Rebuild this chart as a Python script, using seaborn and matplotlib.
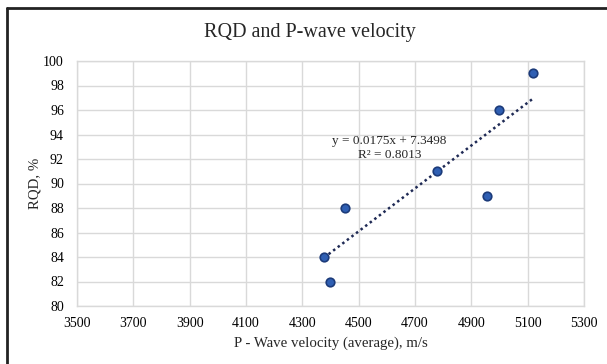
import matplotlib
matplotlib.use("Agg")
import matplotlib.pyplot as plt
import seaborn as sns
import numpy as np
import pandas as pd
from matplotlib.lines import Line2D

sns.set_theme(style="whitegrid")
plt.rcParams['font.family'] = ['Liberation Serif', 'DejaVu Serif']

# Data
velocity = [5119, 4998, 4779, 4956, 4453, 4377, 4399]
rqd = [99, 96, 91, 89, 88, 84, 82]
slope = 0.0175
intercept = 7.3498
r2 = 0.8013
x_ticks = [3500, 3700, 3900, 4100, 4300, 4500, 4700, 4900, 5100, 5300]
y_ticks = [80, 82, 84, 86, 88, 90, 92, 94, 96, 98, 100]

df = pd.DataFrame({"velocity": velocity, "rqd": rqd})

fig = plt.figure(figsize=(6.07, 3.64), dpi=100)
ax = fig.add_axes([77/607, 1-306/364, (584-77)/607, (306-61)/364])

xs = np.array([min(velocity), max(velocity)])
trend = pd.DataFrame({"x": xs, "y": slope*xs + intercept})
sns.lineplot(data=trend, x="x", y="y", ax=ax, color="#1f2a55", linestyle=(0, (1, 1.3)),
             linewidth=1.8, zorder=2)
sns.scatterplot(data=df, x="velocity", y="rqd", ax=ax, s=38, color="#2f5fb3",
                edgecolor="#1c3b7a", linewidth=1.2, zorder=3)

ax.set_xlim(3500, 5300)
ax.set_ylim(80, 100)
ax.set_xticks(x_ticks)
ax.set_yticks(y_ticks)
ax.tick_params(axis='both', labelsize=10, length=0, colors="#000000")
ax.tick_params(axis='x', pad=7.6)
ax.tick_params(axis='y', pad=9.4)
ax.grid(True, color="#d9d9d9", linewidth=1)
for sp in ax.spines.values():
    sp.set_color("#d9d9d9")
    sp.set_linewidth(1)

ax.set_xlabel("P - Wave velocity (average), m/s", fontsize=10.7, labelpad=5)
ax.set_ylabel("RQD, %", fontsize=10.7, labelpad=1)

ax.text(4610, 93.5, f"y = {slope}x + {intercept}", ha="center", va="center", fontsize=9.5)
ax.text(4610, 92.3, f"R² = {r2}", ha="center", va="center", fontsize=9.5)

fig.text(0.51, 1-33/364, "RQD and P-wave velocity", ha="center", va="center", fontsize=14.5)

# outer frame lines (top and left)
fig.add_artist(Line2D([7/607, 1], [1-8/364, 1-8/364], transform=fig.transFigure, color="#222222", linewidth=2))
fig.add_artist(Line2D([7/607, 7/607], [0, 1-8/364], transform=fig.transFigure, color="#222222", linewidth=2))

fig.savefig("out.png", dpi=100)
